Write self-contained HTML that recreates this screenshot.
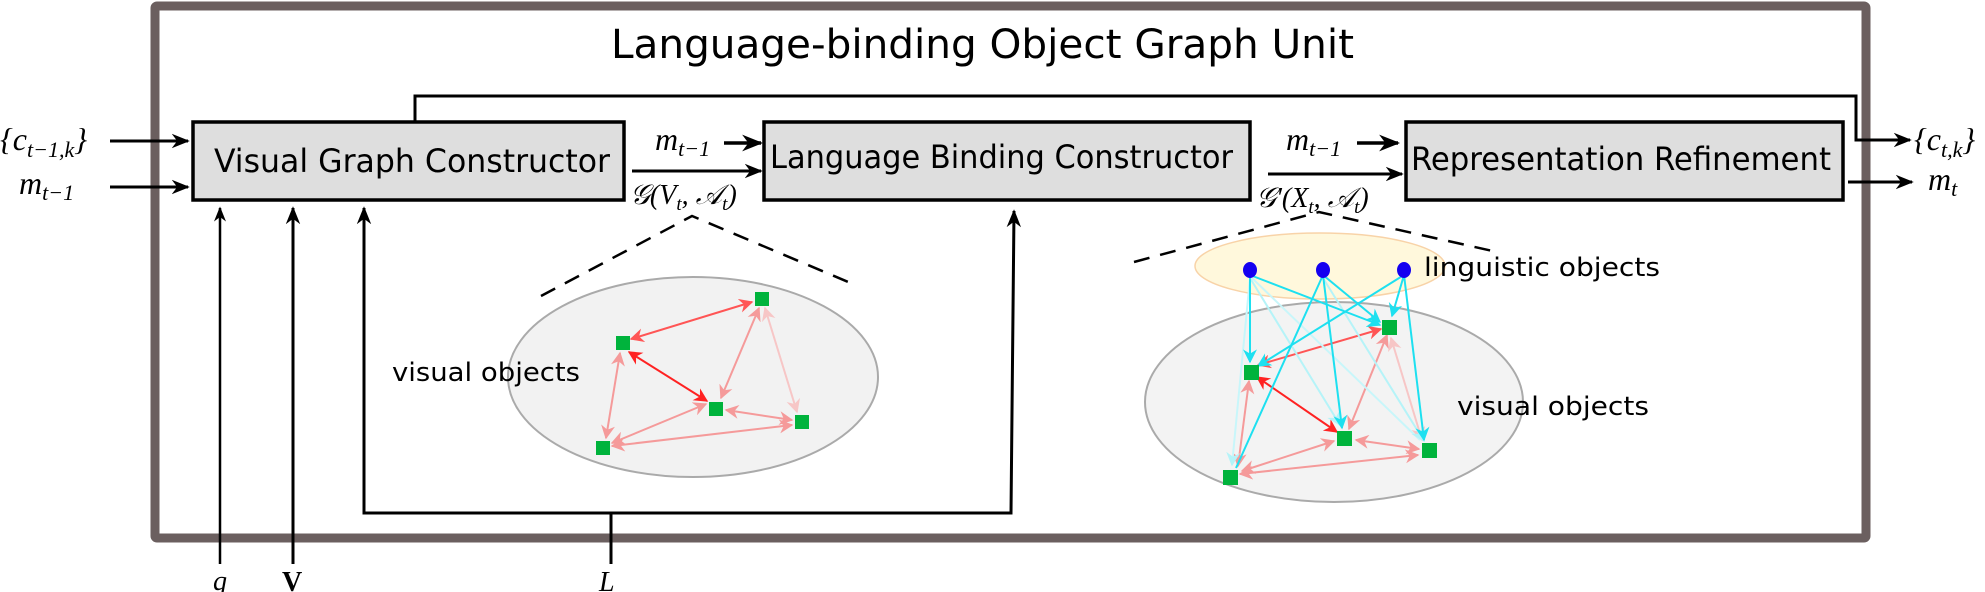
<!DOCTYPE html>
<html><head><meta charset="utf-8"><style>
html,body{margin:0;padding:0;background:#fff;}
svg{display:block;}
.t{font-family:"DejaVu Sans Condensed","Liberation Sans",sans-serif;}
.m{font-family:"Liberation Serif",serif;font-style:italic;}
</style></head><body>
<svg width="1985" height="592" viewBox="0 0 1985 592" xmlns="http://www.w3.org/2000/svg">
<defs>
<marker id="ab" viewBox="0 0 10 10" refX="9" refY="5" markerWidth="6" markerHeight="6" orient="auto-start-reverse"><path d="M0,1 L10,5 L0,9 L3,5 z" fill="#000"/></marker>
<marker id="abt" viewBox="0 0 10 10" refX="9" refY="5" markerWidth="6" markerHeight="6" orient="auto"><path d="M0,1 L10,5 L0,9 L3,5 z" fill="#000"/></marker>
<marker id="rr" viewBox="0 0 10 10" refX="9" refY="5" markerWidth="7" markerHeight="7" orient="auto-start-reverse"><path d="M0,0 L10,5 L0,10 L3,5 z" fill="#f22"/></marker>
<marker id="rp" viewBox="0 0 10 10" refX="9" refY="5" markerWidth="7" markerHeight="7" orient="auto-start-reverse"><path d="M0,0 L10,5 L0,10 L3,5 z" fill="#f59a9a"/></marker>
<marker id="rl" viewBox="0 0 10 10" refX="9" refY="5" markerWidth="7" markerHeight="7" orient="auto-start-reverse"><path d="M0,0 L10,5 L0,10 L3,5 z" fill="#f7c6c6"/></marker>
<marker id="rm" viewBox="0 0 10 10" refX="9" refY="5" markerWidth="7" markerHeight="7" orient="auto-start-reverse"><path d="M0,0 L10,5 L0,10 L3,5 z" fill="#f55"/></marker>
<marker id="c" viewBox="0 0 10 10" refX="9" refY="5" markerWidth="7" markerHeight="7" orient="auto"><path d="M0,0 L10,5 L0,10 L3,5 z" fill="#1de0f0"/></marker>
<marker id="cf" viewBox="0 0 10 10" refX="9" refY="5" markerWidth="7" markerHeight="7" orient="auto"><path d="M0,0 L10,5 L0,10 L3,5 z" fill="#b5f3f8"/></marker>
</defs>

<rect x="155" y="6" width="1711" height="532" fill="none" stroke="#6b5f5f" stroke-width="9" rx="2"/>
<text class="t" x="611" y="58" font-size="40" textLength="743" lengthAdjust="spacingAndGlyphs">Language-binding Object Graph Unit</text>

<rect x="193" y="122" width="431" height="78" fill="#dedede" stroke="#000" stroke-width="3.5"/>
<text class="t" x="214" y="172" font-size="32" textLength="396" lengthAdjust="spacingAndGlyphs">Visual Graph Constructor</text>
<rect x="764" y="122" width="486" height="78" fill="#dedede" stroke="#000" stroke-width="3.5"/>
<text class="t" x="770" y="168" font-size="32" textLength="463" lengthAdjust="spacingAndGlyphs">Language Binding Constructor</text>
<rect x="1406" y="122" width="437" height="78" fill="#dedede" stroke="#000" stroke-width="3.5"/>
<text class="t" x="1411" y="170" font-size="32" textLength="420" lengthAdjust="spacingAndGlyphs">Representation Refinement</text>

<polyline points="415,121 415,96 1856,96 1856,140 1910,140" fill="none" stroke="#000" stroke-width="3" marker-end="url(#abt)"/>
<text class="m" x="1914" y="150" font-size="32">{c<tspan font-size="22" dy="7">t,k</tspan><tspan dy="-7">}</tspan></text>
<line x1="1848" y1="182" x2="1912" y2="182" stroke="#000" stroke-width="3" marker-end="url(#abt)"/>
<text class="m" x="1928" y="190" font-size="32">m<tspan font-size="22" dy="6">t</tspan></text>

<text class="m" x="0" y="150" font-size="32">{c<tspan font-size="22" dy="7">t−1,k</tspan><tspan dy="-7">}</tspan></text>
<line x1="110" y1="141" x2="188" y2="141" stroke="#000" stroke-width="3" marker-end="url(#abt)"/>
<text class="m" x="19" y="194" font-size="32">m<tspan font-size="22" dy="6">t−1</tspan></text>
<line x1="110" y1="187" x2="188" y2="187" stroke="#000" stroke-width="3" marker-end="url(#abt)"/>

<text class="m" x="655" y="150" font-size="32">m<tspan font-size="22" dy="6">t−1</tspan></text>
<line x1="724" y1="143" x2="761" y2="143" stroke="#000" stroke-width="3.5" marker-end="url(#abt)"/>
<line x1="632" y1="171" x2="761" y2="171" stroke="#000" stroke-width="3" marker-end="url(#abt)"/>
<text class="m" x="630" y="204" font-size="28">𝒢(V<tspan font-size="19" dy="6">t</tspan><tspan dy="-6">, 𝒜</tspan><tspan font-size="19" dy="6">t</tspan><tspan dy="-6">)</tspan></text>

<text class="m" x="1286" y="150" font-size="32">m<tspan font-size="22" dy="6">t−1</tspan></text>
<line x1="1357" y1="143" x2="1398" y2="143" stroke="#000" stroke-width="3.5" marker-end="url(#abt)"/>
<line x1="1268" y1="174" x2="1402" y2="174" stroke="#000" stroke-width="3" marker-end="url(#abt)"/>
<text class="m" x="1256" y="207" font-size="28">𝒢'(X<tspan font-size="19" dy="6">t</tspan><tspan dy="-6">, 𝒜</tspan><tspan font-size="19" dy="6">t</tspan><tspan dy="-6">)</tspan></text>

<line x1="220" y1="564" x2="220" y2="208" stroke="#000" stroke-width="2.5" marker-end="url(#ab)"/>
<line x1="293" y1="564" x2="293" y2="208" stroke="#000" stroke-width="3" marker-end="url(#ab)"/>
<polyline points="364,208 364,513 1011,513 1014,211" fill="none" stroke="#000" stroke-width="3" marker-start="url(#ab)" marker-end="url(#ab)"/>
<line x1="611" y1="513" x2="611" y2="564" stroke="#000" stroke-width="3"/>
<text class="m" x="213" y="590" font-size="28">q</text>
<text x="282" y="591" font-size="28" font-family="Liberation Serif,serif" font-weight="bold">V</text>
<text class="m" x="599" y="591" font-size="28">L</text>

<polyline points="541,296 692,216 853,284" fill="none" stroke="#000" stroke-width="2.5" stroke-dasharray="16,11"/>
<polyline points="1134,262 1319,212 1497,252" fill="none" stroke="#000" stroke-width="2.5" stroke-dasharray="16,11"/>

<ellipse cx="693" cy="377" rx="185" ry="100" fill="#f2f2f2" stroke="#aaa" stroke-width="2"/>
<text class="t" x="392" y="381" font-size="26" textLength="188" lengthAdjust="spacingAndGlyphs">visual objects</text>
<g stroke-width="2" fill="none">
<line x1="631" y1="339" x2="752" y2="302" stroke="#f55" marker-start="url(#rm)" marker-end="url(#rm)"/>
<line x1="629" y1="352" x2="707" y2="401" stroke="#f22" marker-start="url(#rr)" marker-end="url(#rr)"/>
<line x1="759" y1="308" x2="721" y2="398" stroke="#f59a9a" marker-start="url(#rp)" marker-end="url(#rp)"/>
<line x1="765" y1="308" x2="797" y2="412" stroke="#f7c6c6" marker-start="url(#rl)" marker-end="url(#rl)"/>
<line x1="620" y1="353" x2="606" y2="438" stroke="#f59a9a" marker-start="url(#rp)" marker-end="url(#rp)"/>
<line x1="612" y1="443" x2="706" y2="404" stroke="#f59a9a" marker-start="url(#rp)" marker-end="url(#rp)"/>
<line x1="726" y1="410" x2="792" y2="420" stroke="#f59a9a" marker-start="url(#rp)" marker-end="url(#rp)"/>
<line x1="612" y1="446" x2="792" y2="425" stroke="#f59a9a" marker-start="url(#rp)" marker-end="url(#rp)"/>
</g>
<g fill="#00b33c">
<rect x="755" y="292" width="14" height="14"/>
<rect x="616" y="336" width="14" height="14"/>
<rect x="709" y="402" width="14" height="14"/>
<rect x="795" y="415" width="14" height="14"/>
<rect x="596" y="441" width="14" height="14"/>
</g>

<ellipse cx="1320" cy="266" rx="125" ry="33" fill="#fff8dc" stroke="#f8d3a8" stroke-width="1.5"/>
<ellipse cx="1334" cy="402" rx="189" ry="100" fill="#f2f2f2" fill-opacity="0.9" stroke="#aaa" stroke-width="2"/>
<text class="t" x="1424" y="276" font-size="26" textLength="236" lengthAdjust="spacingAndGlyphs">linguistic objects</text>
<text class="t" x="1457" y="415" font-size="26" textLength="192" lengthAdjust="spacingAndGlyphs">visual objects</text>
<g stroke-width="2" fill="none">
<line x1="1258" y1="365" x2="1381" y2="329" stroke="#f55" marker-start="url(#rm)" marker-end="url(#rm)"/>
<line x1="1257" y1="377" x2="1337" y2="432" stroke="#f22" marker-start="url(#rr)" marker-end="url(#rr)"/>
<line x1="1387" y1="335" x2="1349" y2="429" stroke="#f59a9a" marker-start="url(#rp)" marker-end="url(#rp)"/>
<line x1="1391" y1="338" x2="1422" y2="440" stroke="#f7c6c6" marker-start="url(#rl)" marker-end="url(#rl)"/>
<line x1="1249" y1="381" x2="1238" y2="466" stroke="#f59a9a" marker-start="url(#rp)" marker-end="url(#rp)"/>
<line x1="1242" y1="471" x2="1334" y2="441" stroke="#f59a9a" marker-start="url(#rp)" marker-end="url(#rp)"/>
<line x1="1356" y1="440" x2="1419" y2="449" stroke="#f59a9a" marker-start="url(#rp)" marker-end="url(#rp)"/>
<line x1="1240" y1="474" x2="1418" y2="455" stroke="#f59a9a" marker-start="url(#rp)" marker-end="url(#rp)"/>
<line x1="1250" y1="278" x2="1340" y2="425" stroke="#b5f3f8" marker-end="url(#cf)"/>
<line x1="1252" y1="278" x2="1420" y2="440" stroke="#c8f6fa"/>
<line x1="1323" y1="278" x2="1424" y2="441" stroke="#b5f3f8" marker-end="url(#cf)"/>
<line x1="1250" y1="278" x2="1232" y2="465" stroke="#c8f6fa" marker-end="url(#cf)"/>
<line x1="1250" y1="275" x2="1250" y2="362" stroke="#1de0f0" marker-end="url(#c)"/>
<line x1="1250" y1="275" x2="1380" y2="325" stroke="#1de0f0" marker-end="url(#c)"/>
<line x1="1323" y1="275" x2="1380" y2="322" stroke="#1de0f0" marker-end="url(#c)"/>
<line x1="1323" y1="275" x2="1342" y2="428" stroke="#1de0f0" marker-end="url(#c)"/>
<line x1="1323" y1="275" x2="1236" y2="468" stroke="#1de0f0"/>
<line x1="1404" y1="275" x2="1258" y2="366" stroke="#1de0f0" marker-end="url(#c)"/>
<line x1="1404" y1="275" x2="1392" y2="316" stroke="#1de0f0" marker-end="url(#c)"/>
<line x1="1404" y1="275" x2="1424" y2="440" stroke="#1de0f0" marker-end="url(#c)"/>
</g>
<g fill="#00b33c">
<rect x="1382" y="320" width="15" height="15"/>
<rect x="1244" y="365" width="15" height="15"/>
<rect x="1337" y="431" width="15" height="15"/>
<rect x="1422" y="443" width="15" height="15"/>
<rect x="1223" y="470" width="15" height="15"/>
</g>
<g fill="#1400f0">
<ellipse cx="1250" cy="270" rx="7" ry="8"/>
<ellipse cx="1323" cy="270" rx="7" ry="8"/>
<ellipse cx="1404" cy="270" rx="7" ry="8"/>
</g>
</svg>
</body></html>
